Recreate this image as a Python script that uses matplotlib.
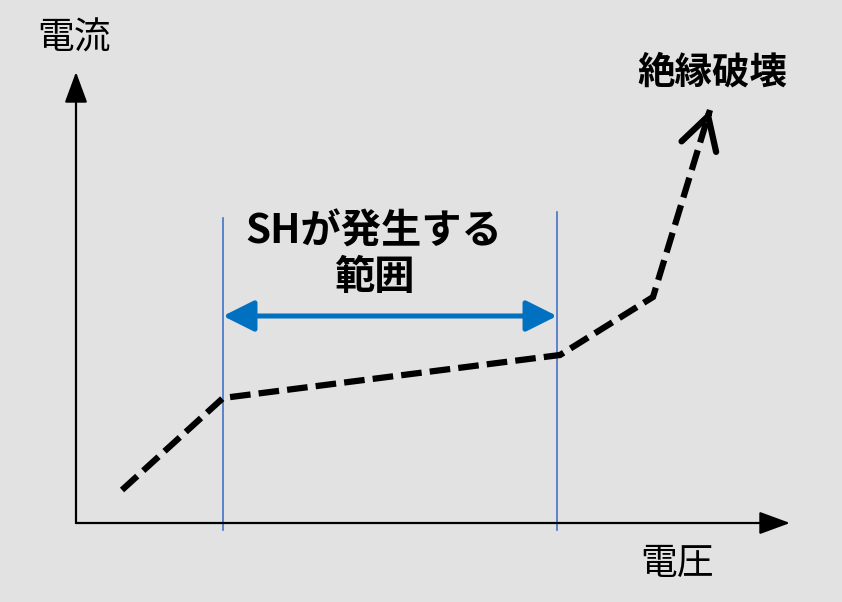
import matplotlib.pyplot as plt

plt.rcParams['font.family'] = ['Noto Sans CJK JP', 'DejaVu Sans']

# curve: voltage vs current (arbitrary units, origin at axis corner)
voltage = [46, 147, 484, 577, 634]
current = [33, 125, 168, 226, 413]

# SH range on the voltage axis
sh_start, sh_end = 147, 481
sh_line_top = [305, 311]
sh_arrow_level = 207

x_axis_end = 714
y_axis_end = 451

bg = '#e2e2e2'
fig = plt.figure(figsize=(8.42, 6.02), dpi=100, facecolor=bg)
ax = fig.add_axes([0, 0, 1, 1])
ax.set_facecolor(bg)
ax.set_xlim(-76, 766)
ax.set_ylim(-79, 523)
ax.axis('off')

# axes with arrows
axis_style = dict(arrowstyle='-|>,head_length=1.9,head_width=0.7', color='black',
                  lw=1.6, shrinkA=0, shrinkB=0, mutation_scale=10)
ax.annotate('', xy=(x_axis_end, 0), xytext=(0, 0), arrowprops=axis_style)
ax.annotate('', xy=(0, y_axis_end), xytext=(0, 0), arrowprops=axis_style)

# SH range boundaries
for xv, top in zip([sh_start, sh_end], sh_line_top):
    ax.plot([xv, xv], [-7, top], color='#4472c4', lw=1.2)

ax.annotate('', xy=(sh_end, sh_arrow_level), xytext=(sh_start, sh_arrow_level),
            arrowprops=dict(arrowstyle='<|-|>,head_length=1.9,head_width=0.95',
                            color='#0070c0', lw=3.6, shrinkA=0, shrinkB=0,
                            mutation_scale=10))

# dashed characteristic curve
ax.plot(voltage, current, color='black', lw=4.5, linestyle=(0, (3.3, 1.3)),
        solid_joinstyle='miter', dash_joinstyle='miter')
dx = voltage[-1] - voltage[-2]
dy = current[-1] - current[-2]
ax.annotate('', xy=(voltage[-1], current[-1]),
            xytext=(voltage[-1] - dx * 0.02, current[-1] - dy * 0.02),
            arrowprops=dict(arrowstyle='->,head_length=2.3,head_width=1.3',
                            color='black', lw=4.5, shrinkA=0, shrinkB=0,
                            mutation_scale=10, capstyle='round', joinstyle='round'))

# labels
ax.text(-2, 485, '電流', fontsize=26.5, ha='center', va='center')
ax.text(601, -40, '電圧', fontsize=26.5, ha='center', va='center')
ax.text(636, 451, '絶縁破壊', fontsize=27, fontweight='bold', ha='center', va='center')
ax.text(298, 268, 'SHが発生する\n範囲', fontsize=29, fontweight='bold',
        ha='center', va='center', linespacing=1.15)

fig.savefig('out.png', dpi=100, facecolor=bg)
